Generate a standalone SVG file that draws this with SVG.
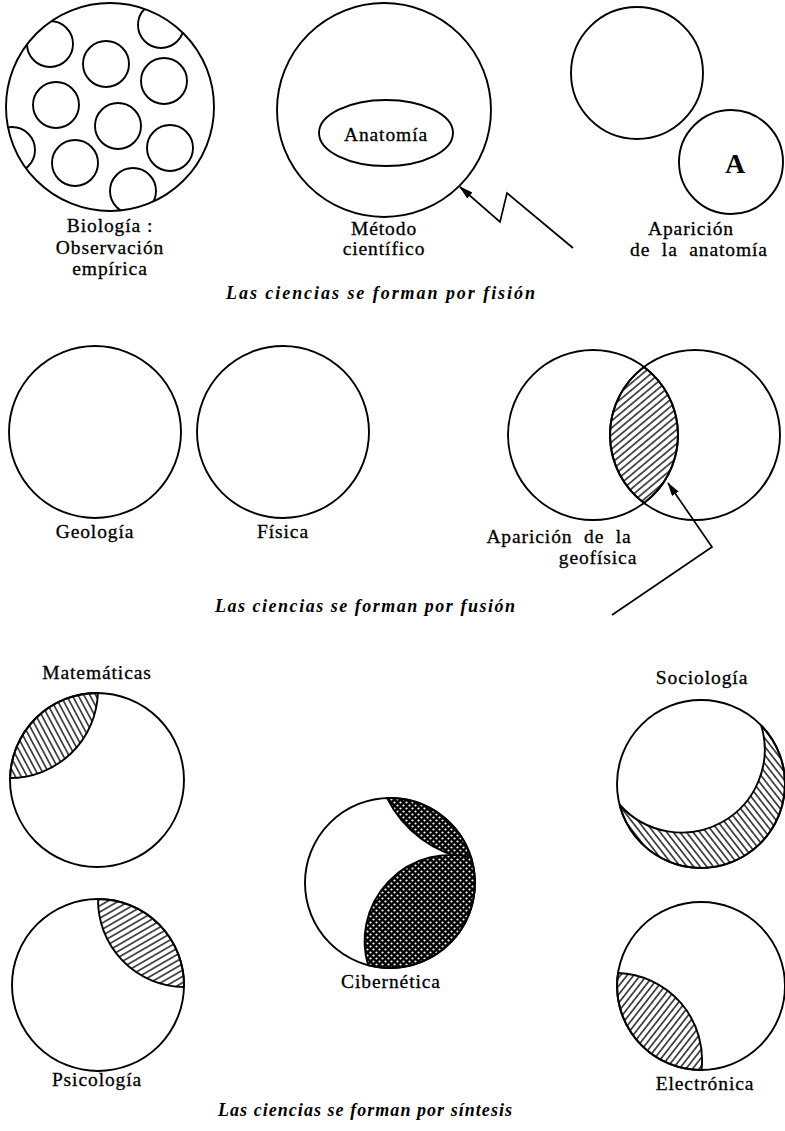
<svg xmlns="http://www.w3.org/2000/svg" width="785" height="1131" viewBox="0 0 785 1131">
<style>
.c{fill:none;stroke:#000;stroke-width:1.9}
.r{stroke:#000;stroke-width:1.9}
.t{font-family:"Liberation Serif","Times New Roman",serif;font-size:19.5px;fill:#000;stroke:#000;stroke-width:0.3;text-anchor:middle;letter-spacing:0.9px}
.cap{font-family:"Liberation Serif","Times New Roman",serif;font-size:18px;font-style:italic;font-weight:bold;fill:#000}
.ln{fill:none;stroke:#000;stroke-width:1.7;stroke-linejoin:miter}
</style>
<defs>
<clipPath id="bioClip"><circle cx="110" cy="107" r="104"/></clipPath>
<pattern id="hVenn" patternUnits="userSpaceOnUse" width="10" height="5.4" patternTransform="rotate(-40)"><rect width="10" height="5.4" fill="#fff"/><line x1="0" y1="2.7" x2="10" y2="2.7" stroke="#000" stroke-width="1.3"/></pattern>
<pattern id="hMat" patternUnits="userSpaceOnUse" width="10" height="5.2" patternTransform="rotate(62)"><rect width="10" height="5.2" fill="#fff"/><line x1="0" y1="2.6" x2="10" y2="2.6" stroke="#000" stroke-width="1.3"/></pattern>
<pattern id="hPsi" patternUnits="userSpaceOnUse" width="10" height="5.4" patternTransform="rotate(-30)"><rect width="10" height="5.4" fill="#fff"/><line x1="0" y1="2.7" x2="10" y2="2.7" stroke="#000" stroke-width="1.3"/></pattern>
<pattern id="hSoc" patternUnits="userSpaceOnUse" width="10" height="5.2" patternTransform="rotate(52)"><rect width="10" height="5.2" fill="#fff"/><line x1="0" y1="2.6" x2="10" y2="2.6" stroke="#000" stroke-width="1.3"/></pattern>
<pattern id="hEle" patternUnits="userSpaceOnUse" width="10" height="5.2" patternTransform="rotate(-52)"><rect width="10" height="5.2" fill="#fff"/><line x1="0" y1="2.6" x2="10" y2="2.6" stroke="#000" stroke-width="1.3"/></pattern>
<pattern id="dots" patternUnits="userSpaceOnUse" width="6" height="6"><rect width="6" height="6" fill="#000"/><circle cx="1.5" cy="1.5" r="1.1" fill="#fff"/><circle cx="4.5" cy="4.5" r="1.1" fill="#fff"/></pattern>
<marker id="arr" markerUnits="userSpaceOnUse" markerWidth="14" markerHeight="8" refX="13" refY="4" orient="auto"><path d="M0,0 L14,4 L0,8 Z" fill="#000"/></marker>
</defs>

<g id="biologia">
<circle class="c" cx="110" cy="107" r="104"/>
<g clip-path="url(#bioClip)">
<circle class="c" cx="50" cy="44" r="23"/>
<circle class="c" cx="161" cy="25" r="23"/>
<circle class="c" cx="106" cy="64" r="23"/>
<circle class="c" cx="164" cy="81" r="23"/>
<circle class="c" cx="56" cy="105" r="23"/>
<circle class="c" cx="118" cy="126" r="23"/>
<circle class="c" cx="170" cy="148" r="23"/>
<circle class="c" cx="12" cy="150" r="23"/>
<circle class="c" cx="75" cy="163" r="23"/>
<circle class="c" cx="133" cy="191" r="23"/>
</g>
<text class="t" x="110" y="232">Biología :</text>
<text class="t" x="110" y="254">Observación</text>
<text class="t" x="110" y="275">empírica</text>
</g>

<g id="metodo">
<circle class="c" cx="384" cy="110" r="107"/>
<ellipse class="c" cx="386" cy="133" rx="67" ry="33"/>
<text class="t" x="386" y="141">Anatomía</text>
<text class="t" x="384" y="235">Método</text>
<text class="t" x="384" y="255">científico</text>
</g>

<g id="aparicion-anatomia">
<circle class="c" cx="637" cy="73" r="66"/>
<circle class="c" cx="731" cy="162" r="52"/>
<text x="735" y="173" style="font-family:'Liberation Serif',serif;font-size:28px;font-weight:bold;text-anchor:middle">A</text>
<text class="t" x="691" y="235">Aparición</text>
<text class="t" x="699" y="256" xml:space="preserve">de  la  anatomía</text>
</g>

<text class="cap" x="226" y="299" textLength="309" lengthAdjust="spacing">Las ciencias se forman por fisión</text>

<g id="geologia">
<circle class="c" cx="95" cy="432" r="86"/>
<text class="t" x="95" y="538">Geología</text>
</g>
<g id="fisica">
<circle class="c" cx="283" cy="432" r="86"/>
<text class="t" x="283" y="538">Física</text>
</g>

<g id="geofisica">
<path class="r" d="M644,367 A85,85 0 0 1 644,503 A85,85 0 0 1 644,367 Z" fill="url(#hVenn)"/>
<circle class="c" cx="593" cy="435" r="85"/>
<circle class="c" cx="695" cy="435" r="85"/>
<text class="t" x="559" y="543" xml:space="preserve">Aparición  de  la</text>
<text class="t" x="598" y="564">geofísica</text>
</g>

<text class="cap" x="215" y="612" textLength="300" lengthAdjust="spacing">Las ciencias se forman por fusión</text>

<g id="matematicas">
<text class="t" x="97" y="679">Matemáticas</text>
<path class="r" d="M97.9,693 A87,87 0 0 0 10.1,778 A88,88 0 0 0 97.9,693 Z" fill="url(#hMat)"/>
<circle class="c" cx="97" cy="780" r="87"/>
</g>

<g id="psicologia">
<path class="r" d="M98,899 A86,86 0 0 1 184,987 A87,87 0 0 1 98,899 Z" fill="url(#hPsi)"/>
<circle class="c" cx="98" cy="985" r="86"/>
<text class="t" x="97" y="1086">Psicología</text>
</g>

<g id="cibernetica">
<path class="r" d="M387.1,798 A85,85 0 0 1 471.7,859.6 A113.3,113.3 0 0 1 387.1,798 Z" fill="url(#dots)"/>
<path class="r" d="M471,857.3 A85,85 0 0 1 368,965.1 A86.2,86.2 0 0 1 471,857.3 Z" fill="url(#dots)"/>
<circle class="c" cx="390" cy="883" r="85"/>
<text class="t" x="391" y="988">Cibernética</text>
</g>

<g id="sociologia">
<text class="t" x="702" y="684">Sociología</text>
<path class="r" d="M761.1,725.3 A84,84 0 1 1 619.5,804.5 A83,83 0 0 0 761.1,725.3 Z" fill="url(#hSoc)"/>
<circle class="c" cx="701" cy="784" r="84"/>
</g>

<g id="electronica">
<path class="r" d="M618.1,973 A84,84 0 0 0 701.5,1070 A87,87 0 0 0 618.1,973 Z" fill="url(#hEle)"/>
<circle class="c" cx="701" cy="986" r="84"/>
<text class="t" x="705" y="1090">Electrónica</text>
</g>

<text class="cap" x="218" y="1116" textLength="294" lengthAdjust="spacing">Las ciencias se forman por síntesis</text>

<g id="connectors">
<path class="ln" d="M573,248 L507,193 L500,222 L460,187" marker-end="url(#arr)"/>
<path class="ln" d="M612,615 L712,547 L668,483" marker-end="url(#arr)"/>
</g>
</svg>
